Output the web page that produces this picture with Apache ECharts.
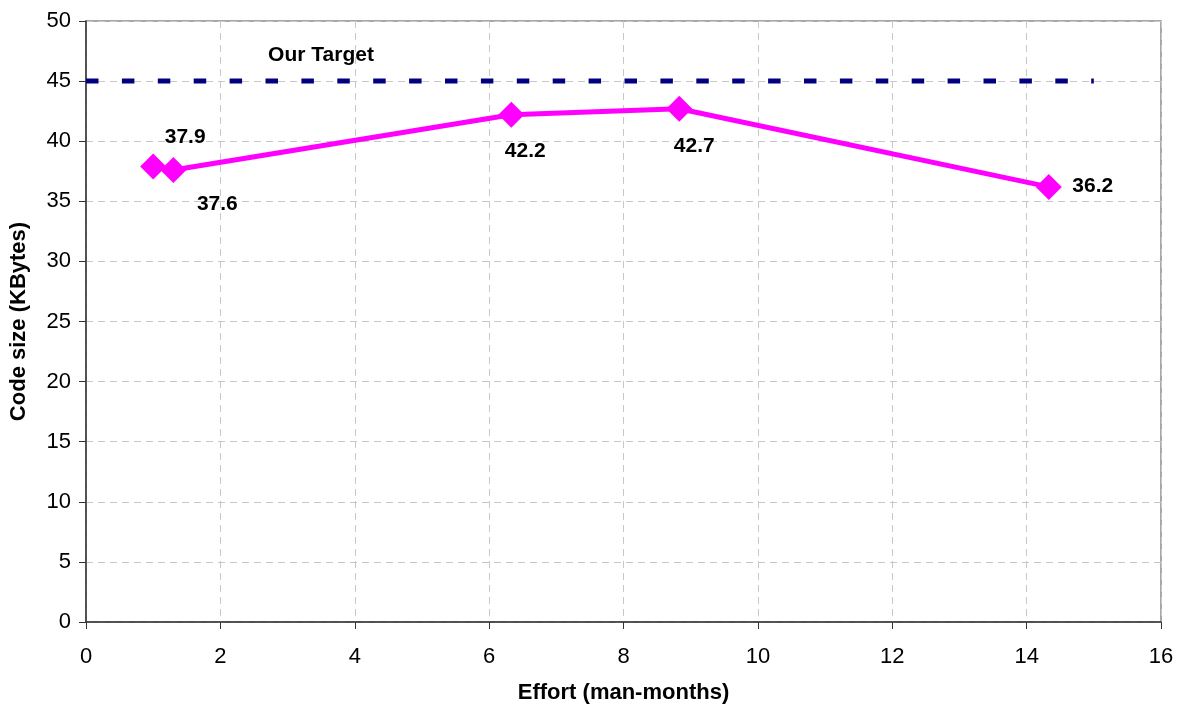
<!DOCTYPE html>
<html>
<head>
<meta charset="utf-8">
<script src="https://cdn.jsdelivr.net/npm/echarts@6/dist/echarts.min.js"></script>
<style>
  html, body { margin: 0; padding: 0; background: #fff; }
  #chart { width: 1180px; height: 706px; }
</style>
</head>
<body>
<div id="chart"></div>
<script>
// Effort (man-months) vs. code size (KBytes)
const effort = [1.0, 1.3, 6.33, 8.83, 14.33];
const codeSize = [37.9, 37.6, 42.2, 42.7, 36.2];
// where each value label sits relative to its marker
const labelOffsets = [[32, -29], [44, 34], [14, 36], [15, 37], [44, -1]];

const targetSize = 45;
const targetSpan = [0, 15];
const targetLabel = 'Our Target';

const xTicks = { min: 0, max: 16, interval: 2 };
const yTicks = { min: 0, max: 50, interval: 5 };

const FONT = 'Arial, "Liberation Sans", Helvetica, sans-serif';

const chart = echarts.init(document.getElementById('chart'));

const pointData = effort.map((x, i) => ({
  value: [x, codeSize[i]],
  label: { offset: labelOffsets[i] }
}));

chart.setOption({
  animation: false,
  backgroundColor: '#ffffff',
  grid: {
    left: 86, right: 19, top: 21, bottom: 84,
    outerBoundsMode: 'none',
    containLabel: false,
    show: true, borderColor: '#8a8a8a', borderWidth: 1.5, backgroundColor: 'transparent'
  },
  xAxis: {
    type: 'value',
    min: xTicks.min, max: xTicks.max, interval: xTicks.interval,
    name: 'Effort (man-months)',
    nameLocation: 'middle',
    nameGap: 60,
    nameTextStyle: { fontFamily: FONT, fontSize: 22, fontWeight: 'bold', color: '#000' },
    axisLine: { show: true, lineStyle: { color: '#333', width: 1.5 } },
    axisTick: { show: true, inside: false, length: 7, lineStyle: { color: '#333' } },
    axisLabel: { margin: 24, fontFamily: FONT, fontSize: 22, color: '#000' },
    splitLine: { show: true, lineStyle: { color: '#c8c8c8', type: [7, 5], width: 1 } }
  },
  yAxis: {
    type: 'value',
    min: yTicks.min, max: yTicks.max, interval: yTicks.interval,
    name: 'Code size (KBytes)',
    nameLocation: 'middle',
    nameGap: 56,
    nameTextStyle: { fontFamily: FONT, fontSize: 22, fontWeight: 'bold', color: '#000' },
    axisLine: { show: true, lineStyle: { color: '#333', width: 1.5 } },
    axisTick: { show: true, inside: false, length: 7, lineStyle: { color: '#333' } },
    axisLabel: { margin: 15, fontFamily: FONT, fontSize: 22, color: '#000' },
    splitLine: { show: true, lineStyle: { color: '#c8c8c8', type: [7, 5], width: 1 } }
  },
  series: [
    {
      name: 'Target',
      type: 'line',
      data: [
        { value: [targetSpan[0], targetSize],
          label: { show: true, formatter: targetLabel, offset: [235, -26] } },
        { value: [targetSpan[1], targetSize] }
      ],
      symbol: 'circle',
      symbolSize: 0,
      showSymbol: true,
      itemStyle: { color: '#000080' },
      lineStyle: { color: '#000080', width: 5, type: [12.5, 23.4], cap: 'butt' },
      label: {
        show: false,
        position: 'inside',
        fontFamily: FONT, fontSize: 21, fontWeight: 'bold', color: '#000'
      },
      silent: true,
      z: 2
    },
    {
      name: 'Code size',
      type: 'line',
      data: pointData,
      symbol: 'diamond',
      symbolSize: 26,
      itemStyle: { color: '#ff00ff' },
      lineStyle: { color: '#ff00ff', width: 5 },
      label: {
        show: true,
        position: 'inside',
        formatter: p => p.value[1].toFixed(1),
        fontFamily: FONT, fontSize: 21, fontWeight: 'bold', color: '#000'
      },
      z: 3
    }
  ]
});
</script>
</body>
</html>
